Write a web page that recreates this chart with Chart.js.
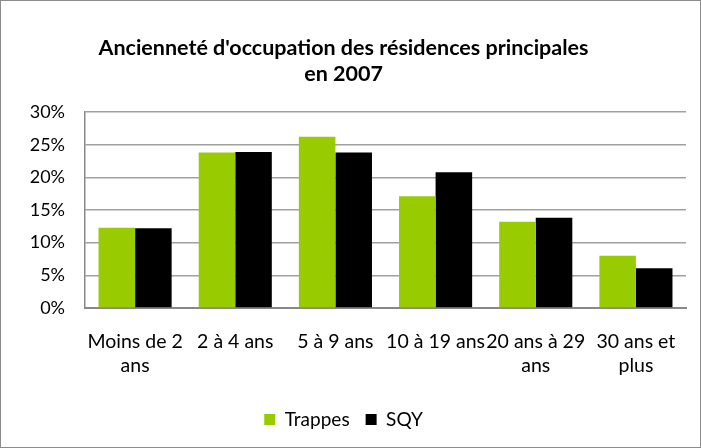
<!DOCTYPE html>
<html>
<head>
<meta charset="utf-8">
<script src="https://cdn.jsdelivr.net/npm/chart.js@4/dist/chart.umd.min.js"></script>
<style>
  html, body { margin: 0; padding: 0; background: #fff; }
  .chart-container {
    position: relative;
    width: 701px;
    height: 448px;
    box-sizing: border-box;
    border: 1px solid #8c8c8c;
  }
</style>
</head>
<body>
<div class="chart-container">
  <canvas id="chart"></canvas>
</div>
<script>
// catégories (étiquettes sur plusieurs lignes comme dans Excel)
const categories = [
  ['Moins de 2', 'ans'],
  '2 à 4 ans',
  '5 à 9 ans',
  '10 à 19 ans',
  ['20 ans à 29', 'ans'],
  ['30 ans et', 'plus']
];

// parts en %
const trappes = [12.3, 23.8, 26.2, 17.1, 13.2, 8.0];
const sqy = [12.2, 23.9, 23.8, 20.8, 13.8, 6.1];

const titleLines = ["Ancienneté d'occupation des résidences principales", 'en 2007'];

const fontFamily = 'Lato, "Open Sans", sans-serif';

const ctx = document.getElementById('chart').getContext('2d');
new Chart(ctx, {
  type: 'bar',
  data: {
    labels: categories,
    datasets: [
      {
        label: 'Trappes',
        data: trappes,
        backgroundColor: '#99cc00',
        borderWidth: 0,
        categoryPercentage: 0.73,
        barPercentage: 1.0
      },
      {
        label: 'SQY',
        data: sqy,
        backgroundColor: '#000000',
        borderWidth: 0,
        categoryPercentage: 0.73,
        barPercentage: 1.0
      }
    ]
  },
  options: {
    responsive: true,
    maintainAspectRatio: false,
    animation: false,
    layout: {
      padding: { left: 0, right: 14, top: 34, bottom: 8 }
    },
    scales: {
      x: {
        grid: { display: false, drawTicks: false },
        border: { color: '#888', width: 2 },
        // hauteur fixe de l'axe pour caler la zone de tracé
        afterFit: scale => { scale.height = 86; },
        ticks: {
          color: '#000',
          font: { family: fontFamily, size: 19.5, lineHeight: 1.23 },
          padding: 22,
          maxRotation: 0,
          autoSkip: false
        }
      },
      y: {
        min: 0,
        max: 30,
        grid: { color: '#a0a0a0', lineWidth: 1.5, drawTicks: false },
        border: { color: '#888', width: 1.5 },
        // largeur fixe de l'axe
        afterFit: scale => { scale.width = 84; },
        ticks: {
          stepSize: 5,
          color: '#000',
          font: { family: fontFamily, size: 18 },
          padding: 20,
          callback: v => v + '%'
        }
      }
    },
    plugins: {
      title: {
        display: true,
        text: titleLines,
        color: '#000',
        font: { family: fontFamily, size: 21.5, weight: 'bold', lineHeight: 1.21 },
        padding: { top: 0, bottom: 25 }
      },
      legend: {
        position: 'bottom',
        labels: {
          color: '#000',
          font: { family: fontFamily, size: 19 },
          boxWidth: 11,
          boxHeight: 11,
          padding: 16
        }
      },
      tooltip: { enabled: false }
    }
  }
});
</script>
</body>
</html>
